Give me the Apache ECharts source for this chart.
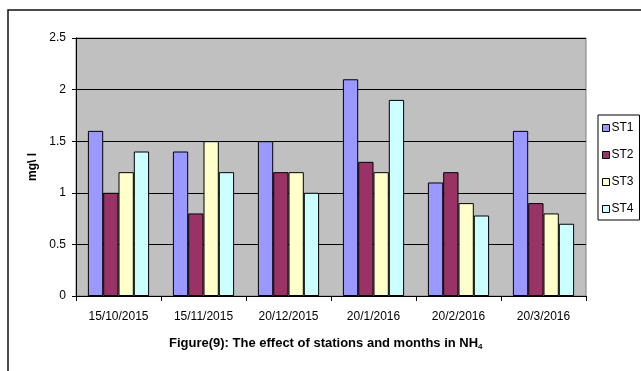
<!DOCTYPE html>
<html>
<head>
<meta charset="utf-8">
<script src="https://cdn.jsdelivr.net/npm/echarts@6/dist/echarts.min.js"></script>
<style>
html,body{margin:0;padding:0;background:#fff;}
#chart{width:641px;height:371px;}
</style>
</head>
<body>
<div id="chart"></div>
<script>
// Sampling dates and NH4 concentration (mg/l) per station
const categories = ['15/10/2015', '15/11/2015', '20/12/2015', '20/1/2016', '20/2/2016', '20/3/2016'];
const st1 = [1.6, 1.4, 1.5, 2.1, 1.1, 1.6];
const st2 = [1.0, 0.8, 1.2, 1.3, 1.2, 0.9];
const st3 = [1.2, 1.5, 1.2, 1.2, 0.9, 0.8];
const st4 = [1.4, 1.2, 1.0, 1.9, 0.78, 0.7];
const seriesNames = ['ST1', 'ST2', 'ST3', 'ST4'];
const yTicks = [0, 0.5, 1, 1.5, 2, 2.5];

const colors = ['#9999FF', '#993366', '#FFFFCC', '#CCFFFF'];
const font = 'Liberation Sans, Arial, sans-serif';

const chart = echarts.init(document.getElementById('chart'), null, {renderer: 'canvas'});

const data = [st1, st2, st3, st4];
const series = data.map((vals, i) => ({
  name: seriesNames[i],
  type: 'bar',
  data: vals,
  barGap: '0%',
  barCategoryGap: '28%',
  itemStyle: {color: colors[i], borderColor: '#000', borderWidth: 1},
  emphasis: {disabled: true}
}));

chart.setOption({
  animation: false,
  color: colors,
  textStyle: {fontFamily: font},
  grid: {
    left: 76, top: 38, width: 510, height: 258,
    show: true, backgroundColor: '#C0C0C0', borderColor: '#808080', borderWidth: 1
  },
  graphic: [
    {type: 'rect', shape: {x: 8, y: 10, width: 700, height: 400},
     style: {fill: 'none', stroke: '#111', lineWidth: 1.5}, silent: true},
    {type: 'text', left: 169, top: 337,
     style: {
       text: '{t|Figure(9): The effect of stations and months in NH}{s|4}',
       rich: {
         t: {fontFamily: font, fontSize: 13, fontWeight: 'bold', fill: '#000'},
         s: {fontFamily: font, fontSize: 8, fontWeight: 'bold', fill: '#000', padding: [7, 0, 0, 0]}
       }
     }}
  ],
  legend: {
    orient: 'vertical',
    left: 598, top: 115,
    itemWidth: 7, itemHeight: 7,
    itemGap: 13,
    padding: [6, 6, 4, 4],
    icon: 'rect',
    backgroundColor: '#fff',
    borderColor: '#000', borderWidth: 1,
    borderRadius: 0,
    itemStyle: {borderColor: '#000', borderWidth: 1},
    textStyle: {fontFamily: font, fontSize: 12, lineHeight: 14, color: '#000', padding: [0, 0, 0, -3]},
    data: seriesNames
  },
  xAxis: {
    type: 'category',
    data: categories,
    axisLine: {lineStyle: {color: '#000', width: 1}},
    axisTick: {show: true, length: 5, alignWithLabel: false, lineStyle: {color: '#000'}},
    axisLabel: {fontFamily: font, fontSize: 12, color: '#000', margin: 15, interval: 0},
    splitLine: {show: false}
  },
  yAxis: {
    type: 'value',
    min: yTicks[0], max: yTicks[yTicks.length - 1], interval: 0.5,
    name: 'mg\\ l',
    nameLocation: 'middle',
    nameGap: 36,
    nameRotate: 90,
    nameTextStyle: {fontFamily: font, fontSize: 12, fontWeight: 'bold', color: '#000'},
    axisLine: {show: true, lineStyle: {color: '#000', width: 1}},
    axisTick: {show: true, length: 4, lineStyle: {color: '#000'}},
    axisLabel: {fontFamily: font, fontSize: 12, color: '#000', margin: 10,
      formatter: v => String(v)},
    splitLine: {show: true, lineStyle: {color: '#000', width: 1}}
  },
  series: series
});
</script>
</body>
</html>
